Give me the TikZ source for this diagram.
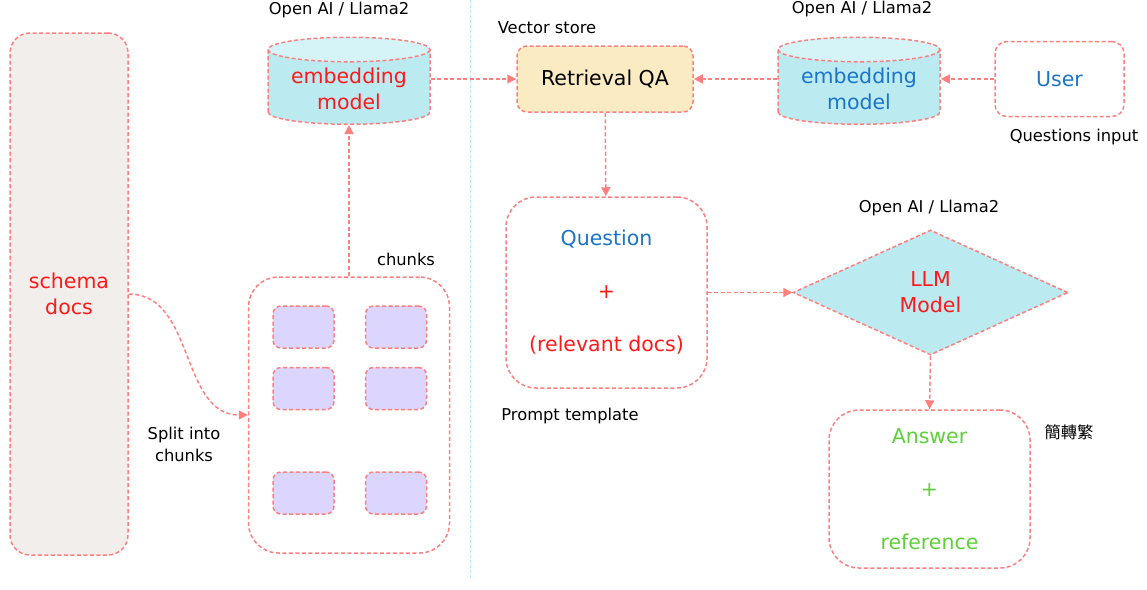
\documentclass[tikz,border=0pt]{standalone}
\usepackage{fontspec}
\setmainfont{DejaVu Sans}
\newfontfamily\cjkfont{Noto Sans CJK TC}
\usetikzlibrary{shapes.geometric,arrows.meta}
\definecolor{linered}{HTML}{FF7F7F}
\definecolor{docfill}{HTML}{F2EEEB}
\definecolor{chunkfill}{HTML}{DCD6FF}
\definecolor{cyanfill}{HTML}{BBEAF1}
\definecolor{cyantop}{HTML}{D5F4F8}
\definecolor{qafill}{HTML}{FAEBC3}
\definecolor{txtred}{HTML}{FF1A1A}
\definecolor{txtblue}{HTML}{1C75C8}
\definecolor{txtgreen}{HTML}{5ED13A}
\definecolor{divcyan}{HTML}{B3EDF5}
\tikzset{
  dashline/.style={draw=linered, dash pattern=on 4pt off 2.5pt, line width=1.5pt},
  roundbox/.style={dashline, rounded corners=#1, fill=white, align=center},
  dbcyl/.style={cylinder, shape border rotate=90, aspect=0.2, dashline,
    cylinder uses custom fill, cylinder body fill=cyanfill,
    cylinder end fill=cyantop, minimum width=162, minimum height=87,
    align=center},
  chunk/.style={dashline, rounded corners=8, fill=chunkfill,
    minimum width=61, minimum height=42},
  lbl/.style={font=\fontsize{16.3}{22}\selectfont},
  flow/.style={dashline, -{Triangle[length=9pt,width=9pt]}}
}
\begin{document}
\begin{tikzpicture}[x=1pt, y=-1pt, font=\fontsize{20.5}{26}\selectfont]
  \useasboundingbox (0,0) rectangle (1147,589);
  \draw[divcyan, dash pattern=on 3pt off 2pt, line width=1pt] (470,0) -- (470,580);
  \node[roundbox=20, fill=docfill, minimum width=118, minimum height=522,
    text=txtred] (docs) at (69,294) {schema\\docs};
  \node[roundbox=30, minimum width=201, minimum height=276] (chunks) at (349,415) {};
  \node[chunk] (c1) at (303.5,327) {};
  \node[chunk] (c2) at (396,327) {};
  \node[chunk] (c3) at (303.5,388.5) {};
  \node[chunk] (c4) at (396,388.5) {};
  \node[chunk] (c5) at (303.5,493) {};
  \node[chunk] (c6) at (396,493) {};
  \node[dbcyl, text=txtred] (emb1) at (349,89) {embedding\\model};
  \node[roundbox=10, fill=qafill, minimum width=176, minimum height=66] (qa) at (605,79) {Retrieval QA};
  \node[dbcyl, text=txtblue] (emb2) at (859,89) {embedding\\model};
  \node[roundbox=12, minimum width=129, minimum height=75, text=txtblue] (user) at (1059.5,79) {User};
  \node[roundbox=30, minimum width=201, minimum height=191] (prompt) at (606.5,292.5)
    {\textcolor{txtblue}{Question}\\[27pt]\textcolor{txtred}{+}\\[27pt]\textcolor{txtred}{(relevant docs)}};
  \node[diamond, dashline, fill=cyanfill, minimum width=275, minimum height=125,
    inner sep=0pt, text=txtred, align=center] (llm) at (930.5,292.5) {LLM\\Model};
  \node[roundbox=30, minimum width=201, minimum height=158, text=txtgreen] (answer) at (929.5,489)
    {Answer\\[27pt]+\\[27pt]reference};
  \node[lbl] (open1) at (339,10) {Open AI / Llama2};
  \node[lbl] (vstore) at (547,28) {Vector store};
  \node[lbl] (open2) at (862,9) {Open AI / Llama2};
  \node[lbl] (qin) at (1074,137) {Questions input};
  \node[lbl] (chunkslbl) at (406,259) {chunks};
  \node[lbl, align=center] (split) at (184,444) {Split into\\chunks};
  \node[lbl] (ptmpl) at (570,416) {Prompt template};
  \node[lbl] (open3) at (929,208) {Open AI / Llama2};
  \node[lbl] (zh) at (1069,432) {\cjkfont 簡轉繁};
  \begin{scope}[flow]
    \draw (docs.east) .. controls (195,294) and (180,415) .. (chunks.west);
    \draw (chunks) -- (emb1);
    \draw (emb1.east |- qa.west) -- (qa.west);
    \draw (emb2.west |- qa.east) -- (qa.east);
    \draw (user.west) -- (user.west -| emb2.east);
    \draw (qa) -- (prompt);
    \draw (prompt.east) -- (llm.west);
    \draw (llm.south) -- (answer.north);
  \end{scope}
\end{tikzpicture}
\end{document}
